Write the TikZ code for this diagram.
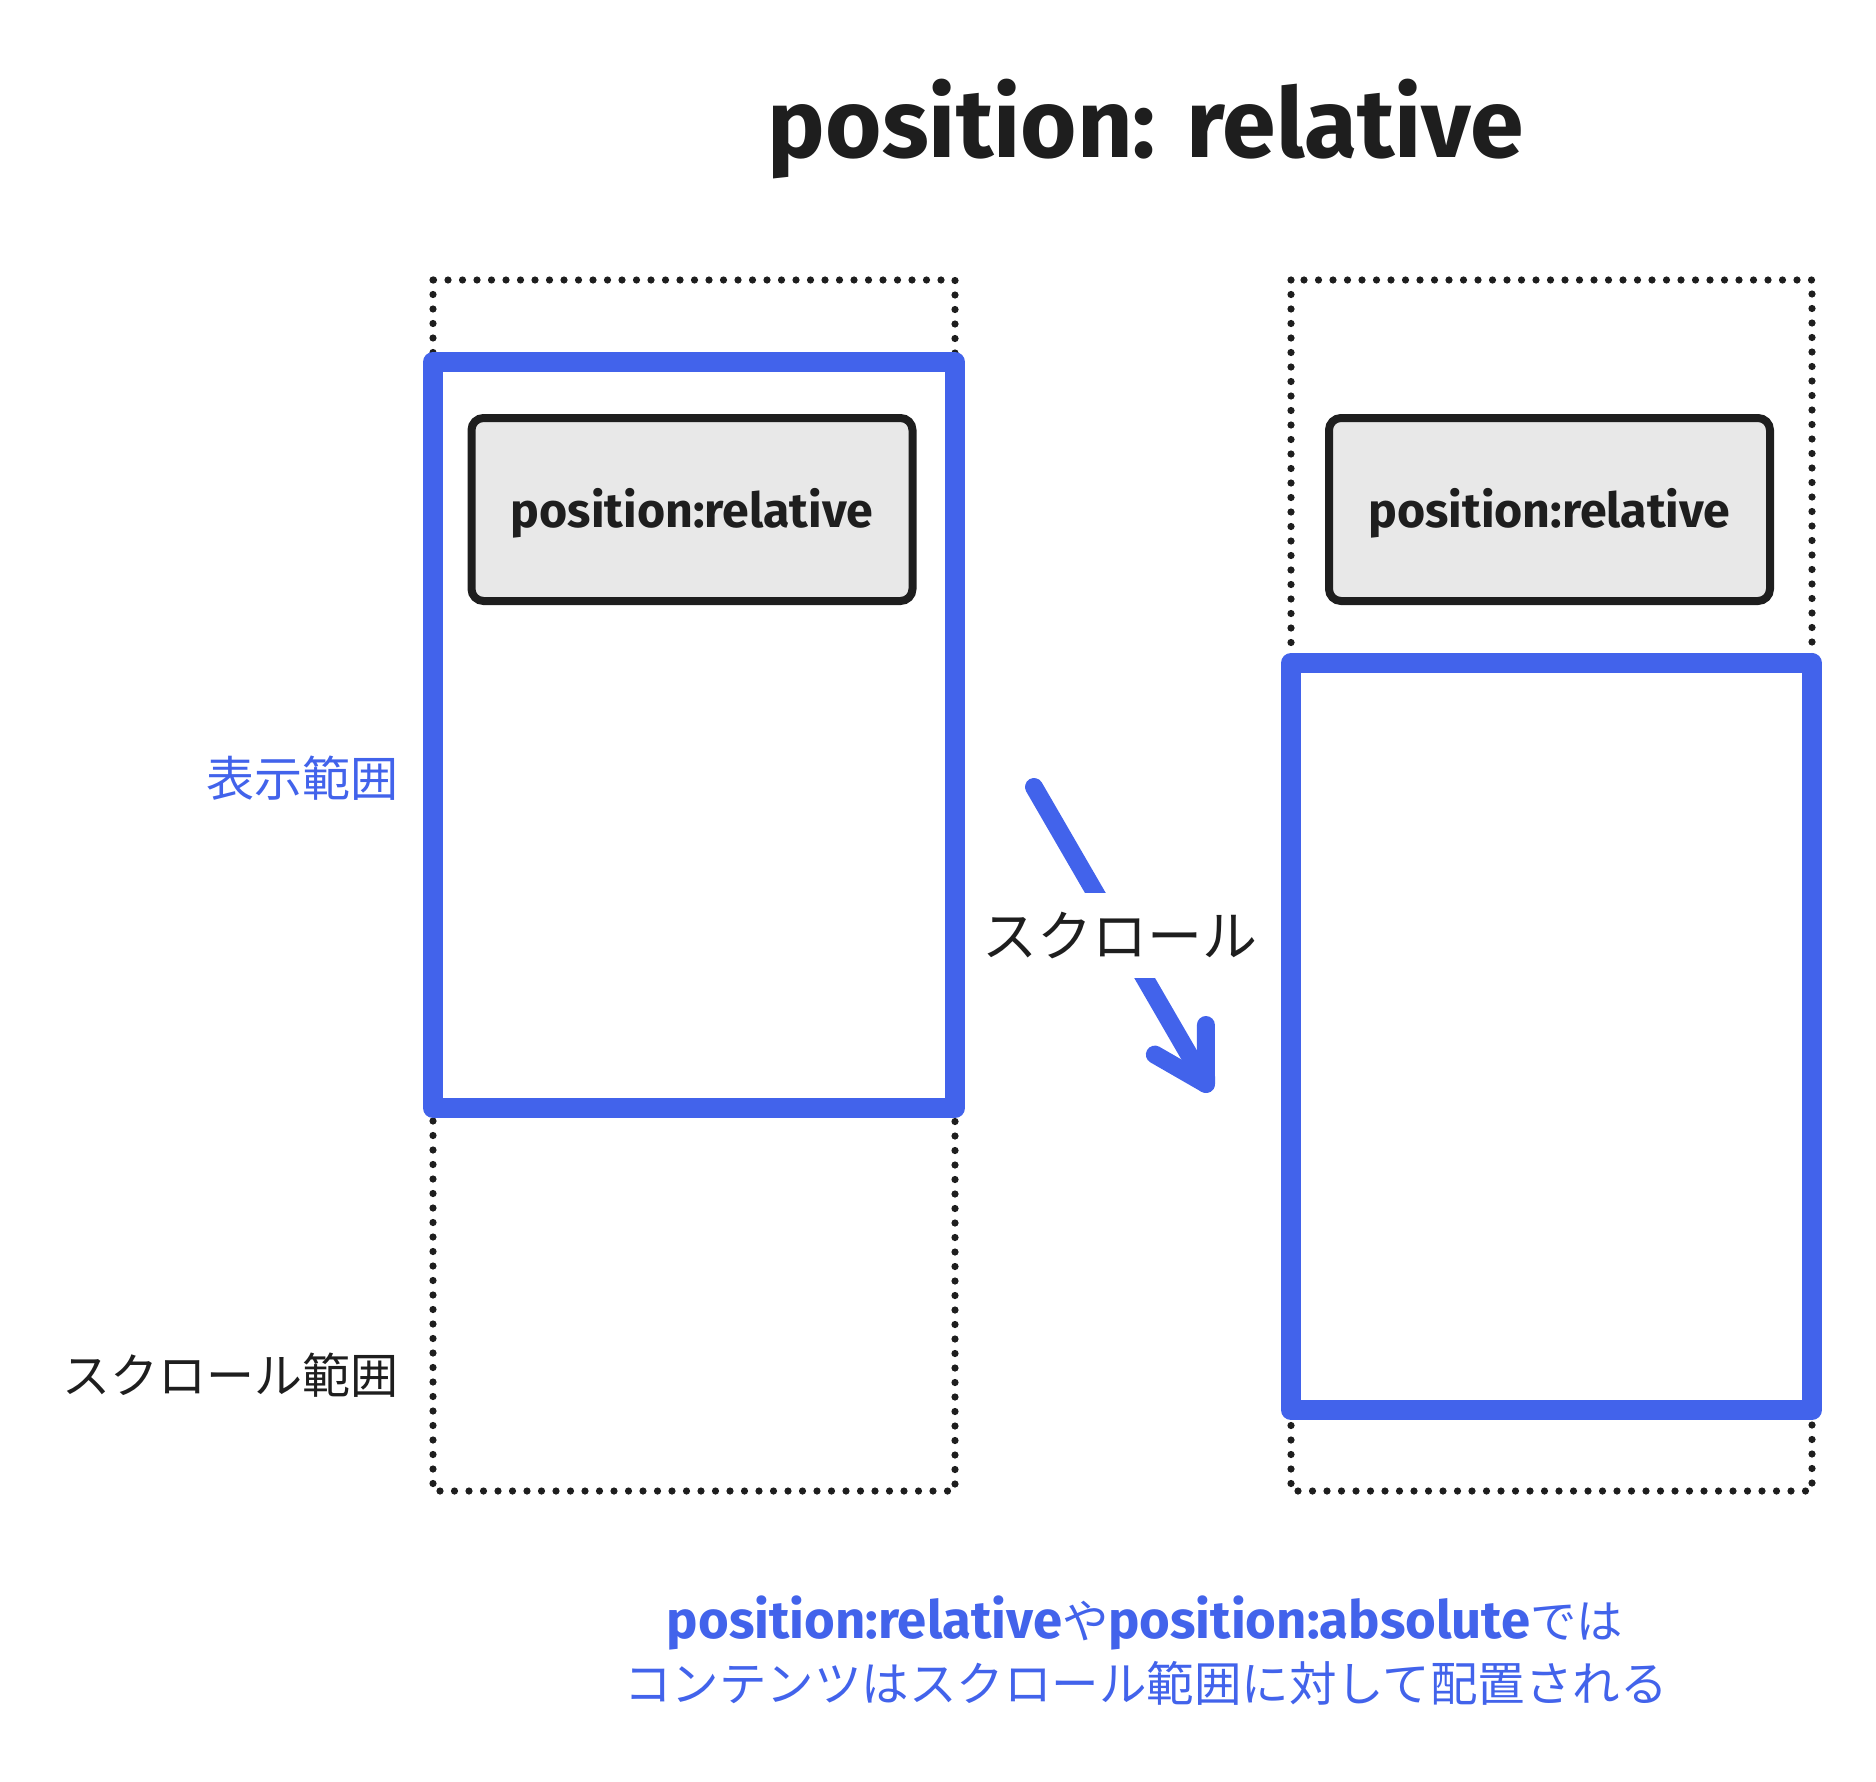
\documentclass[tikz,border=0pt]{standalone}
\usepackage{fontspec}
\usepackage{graphicx}
\setmainfont{Fira Sans}
\newfontfamily\jpfont{Noto Sans CJK JP}
\usetikzlibrary{calc}
\definecolor{exblue}{HTML}{4263EB}
\definecolor{exink}{HTML}{1E1E1E}
\definecolor{exgray}{HTML}{E8E8E8}
\begin{document}
\begin{tikzpicture}[x=0.5pt,y=-0.5pt,
  scrollarea/.style={draw=exink, line width=3.6pt, line cap=round, dash pattern=on 0pt off 7.25pt},
  viewport/.style={draw=exblue, line width=10pt, line join=round},
  relbox/.style={draw=exink, fill=exgray, line width=4pt, rounded corners=6pt,
    minimum width=220.5pt, minimum height=91.5pt, inner sep=0pt, text=exink,
    text height=20pt, text depth=2.5pt},
  sidelabel/.style={anchor=east, inner sep=0pt, font=\jpfont\fontsize{24}{28}\selectfont},
  scrollarrow/.style={draw=exblue, line width=9pt, line cap=round, line join=round},
  scrolllabel/.style={fill=white, inner xsep=0pt, inner ysep=9.5pt, text=exink,
    font=\jpfont\fontsize{27.5}{30}\selectfont},
  notetext/.style={anchor=base, inner sep=0pt, text=exblue}
]
\useasboundingbox (0,0) rectangle (1876,1782);

% title
\node[anchor=base, inner sep=0pt, text=exink] (title) at (1146,158)
  {\resizebox{378pt}{!}{\bfseries position: relative}};

% left: scroll area and viewport
\draw[scrollarea] (433,280) rectangle (955,1491);
\node[relbox] (leftbox) at (692,509.5) {\resizebox{181pt}{!}{\bfseries position:relative}};
\draw[viewport] (433,362) rectangle (955,1108);

% right: scroll area and viewport after scrolling
\draw[scrollarea] (1291,280) rectangle (1812,1491);
\node[relbox] (rightbox) at (1549.5,509.5) {\resizebox{181pt}{!}{\bfseries position:relative}};
\draw[viewport] (1291,663) rectangle (1812,1410);

% side labels
\node[sidelabel, text=exblue] (viewlabel) at (399,778) {表示範囲};
\node[sidelabel, text=exink] (scrolllabeltext) at (399,1375) {スクロール範囲};

% scroll arrow
\coordinate (scrollstart) at (1034,787);
\coordinate (scrolltip) at (1206,1084);
\draw[scrollarrow] (scrollstart) -- node[scrolllabel] (scrolltext) {スクロール} (scrolltip);
\coordinate (barbA) at ($(scrolltip)!29.5pt!30:(scrollstart)$);
\coordinate (barbB) at ($(scrolltip)!29.5pt!-30:(scrollstart)$);
\draw[scrollarrow] (barbA) -- (scrolltip) -- (barbB);

% note
\node[notetext] (noteone) at (1145,1638)
  {\resizebox{478pt}{!}{{\bfseries\fontsize{27}{30}\selectfont position:relative}{\jpfont\fontsize{23.75}{30}\selectfont や}{\bfseries\fontsize{27}{30}\selectfont position:absolute}{\jpfont\fontsize{23.75}{30}\selectfont では}}};
\node[notetext, font=\jpfont\fontsize{23.75}{30}\selectfont] (notetwo) at (1146,1701)
  {コンテンツはスクロール範囲に対して配置される};
\end{tikzpicture}
\end{document}
